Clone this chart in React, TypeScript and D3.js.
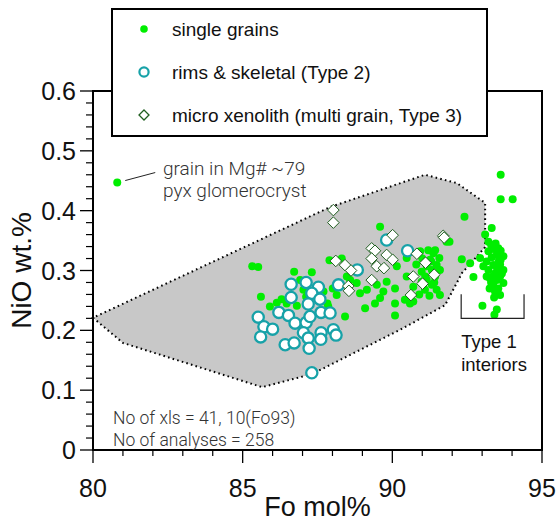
import React from 'react';
import * as d3 from 'd3';

// [Fo mol%, NiO wt.%]
const singleGrains: [number, number][] = [
  [80.81, 0.447],
  [85.32, 0.307], [85.52, 0.306], [86.72, 0.298], [87.31, 0.297], [87.9, 0.317], [88.31, 0.32],
  [85.61, 0.256], [85.91, 0.24], [86.14, 0.246], [86.3, 0.252], [86.81, 0.241],
  [87.03, 0.268], [87.12, 0.256], [87.7, 0.265], [88.01, 0.27], [88.14, 0.259], [87.83, 0.245],
  [88.42, 0.223], [88.48, 0.29], [86.92, 0.284], [86.47, 0.245], [87.86, 0.24],
  [93.62, 0.46], [93.62, 0.419], [94.02, 0.419], [92.41, 0.39], [93.32, 0.371], [93.1, 0.36],
  [93.21, 0.348], [91.91, 0.348],
  [93.21, 0.332], [93.37, 0.336], [93.54, 0.337], [93.62, 0.333], [93.49, 0.326], [93.71, 0.324],
  [93.32, 0.322], [93.62, 0.318], [93.15, 0.315], [93.37, 0.309], [93.54, 0.307], [93.71, 0.301],
  [93.21, 0.301], [93.43, 0.295], [93.6, 0.29], [93.26, 0.287], [93.49, 0.284], [93.71, 0.279],
  [93.37, 0.276], [93.54, 0.27], [93.43, 0.265], [93.6, 0.259], [93.15, 0.29], [93.04, 0.307],
  [92.93, 0.321], [92.32, 0.319], [92.6, 0.312], [92.71, 0.289], [93.01, 0.241], [93.49, 0.235],
  [93.41, 0.226],
  [93.3, 0.343], [93.45, 0.345], [93.55, 0.315], [93.3, 0.28], [93.66, 0.295], [93.4, 0.255],
  [93.25, 0.27], [93.5, 0.3], [93.35, 0.29], [93.6, 0.31],
  [89.59, 0.373],
  [91.2, 0.334], [91.37, 0.329], [91.57, 0.321], [91.26, 0.318], [91.48, 0.309], [91.15, 0.307],
  [90.98, 0.298], [91.32, 0.301], [91.59, 0.301], [91.43, 0.29], [91.15, 0.284], [91.32, 0.276],
  [91.09, 0.268], [91.48, 0.268], [91.24, 0.258], [90.7, 0.273], [90.48, 0.29], [90.42, 0.251],
  [90.7, 0.248], [90.15, 0.307], [90.09, 0.27], [89.81, 0.281], [89.7, 0.265], [89.48, 0.276],
  [89.15, 0.268], [88.92, 0.262], [88.81, 0.279], [89.59, 0.254], [89.42, 0.245], [89.09, 0.237],
  [90.09, 0.245], [90.09, 0.225], [90.48, 0.321], [91.81, 0.348], [90.93, 0.332], [88.59, 0.284],
  [91.59, 0.259], [90.59, 0.245], [90.98, 0.281], [91.43, 0.334],
  [91.0, 0.32], [91.3, 0.315], [90.8, 0.31], [91.4, 0.28], [90.9, 0.26], [91.1, 0.29],
];

const rimsSkeletal: [number, number][] = [
  [86.62, 0.277], [87.12, 0.28], [87.53, 0.272], [87.31, 0.262], [87.58, 0.252], [88.2, 0.276],
  [86.62, 0.255], [87.19, 0.244], [86.21, 0.23], [86.53, 0.225], [86.75, 0.212], [85.52, 0.222],
  [85.71, 0.206], [86.0, 0.202], [85.6, 0.189], [87.12, 0.213], [87.25, 0.223], [87.62, 0.23],
  [87.92, 0.229], [87.03, 0.196], [87.19, 0.187], [87.62, 0.196], [87.61, 0.185], [88.03, 0.201],
  [88.12, 0.192], [86.42, 0.176], [86.72, 0.179], [87.22, 0.17], [87.31, 0.129], [88.83, 0.301],
  [89.81, 0.351], [90.51, 0.333],
];

const microXenolith: [number, number][] = [
  [88.03, 0.401], [88.03, 0.38], [90.01, 0.359], [91.7, 0.358], [91.73, 0.355], [89.31, 0.337],
  [89.42, 0.333], [89.81, 0.326], [90.01, 0.318], [89.31, 0.32], [89.48, 0.307], [89.72, 0.304],
  [90.82, 0.328], [91.11, 0.313], [88.11, 0.316], [88.42, 0.309], [88.62, 0.3], [89.31, 0.284],
  [90.7, 0.29], [91.4, 0.293], [91.01, 0.278], [88.53, 0.274], [88.55, 0.266], [90.62, 0.259],
];

const hullOutline: [number, number][] = [
  [80.0, 0.221], [81.0, 0.179], [85.65, 0.105], [87.32, 0.127], [90.26, 0.201], [91.76, 0.242],
  [92.33, 0.296], [93.1, 0.339], [93.1, 0.413], [92.16, 0.446], [91.09, 0.46], [87.92, 0.406],
];

const xMajorTicks = [80, 85, 90, 95];
const xMinorTicks = [81, 82, 83, 84, 86, 87, 88, 89, 91, 92, 93, 94];
const yMajorTicks = [0, 0.1, 0.2, 0.3, 0.4, 0.5, 0.6];
const yTickLabels = ['0', '0.1', '0.2', '0.3', '0.4', '0.5', '0.6'];
const yMinorTicks = [
  0.02, 0.04, 0.06, 0.08, 0.12, 0.14, 0.16, 0.18, 0.22, 0.24, 0.26, 0.28,
  0.32, 0.34, 0.36, 0.38, 0.42, 0.44, 0.46, 0.48, 0.52, 0.54, 0.56, 0.58,
];

const legendLabels = ['single grains', 'rims & skeletal (Type 2)', 'micro xenolith (multi grain, Type 3)'];
const outlierNote = ['grain in Mg# ~79', 'pyx glomerocryst'];
const countNote = ['No of xls = 41, 10(Fo93)', 'No of analyses = 258'];
const bracketLabel = ['Type 1', 'interiors'];
const outlierPoint: [number, number] = [80.81, 0.447];
const bracketRange: [number, number, number] = [92.3, 94.4, 0.22]; // Fo from, Fo to, NiO bottom

const GREEN = '#00ee00';
const TEAL = '#17a2a8';
const DGREEN = '#1f5e1f';
const FONT = '"Liberation Sans", Arial, Helvetica, sans-serif';
const LIGHT = 'Roboto, "Liberation Sans", Arial, sans-serif';

export default function App() {
  const x = d3.scaleLinear().domain([80, 95]).range([93, 542]);
  const y = d3.scaleLinear().domain([0, 0.6]).range([450, 91]);
  const hullPath = d3
    .line<[number, number]>()
    .x((d) => x(d[0]))
    .y((d) => y(d[1]))
    .curve(d3.curveLinearClosed)(hullOutline) as string;
  const diamond = (s: number) => `M0,${-s}L${s},0L0,${s}L${-s},0Z`;

  const [x0, x1] = [x.range()[0], x.range()[1]];
  const [yb, yt] = [y.range()[0], y.range()[1]];

  const bx0 = x(bracketRange[0]);
  const bx1 = x(bracketRange[1]);
  const bTop = y(bracketRange[2]);
  const ox = x(outlierPoint[0]);
  const oy = y(outlierPoint[1]);

  return (
    <svg
      width={558}
      height={525}
      style={{ position: 'absolute', left: 0, top: 0, background: '#fff' }}
    >
      <path d={hullPath} fill="#c8c8c8" stroke="#000" strokeWidth={2} strokeDasharray="1.6 3.2" />

      {singleGrains.map((d, i) => (
        <circle key={'g' + i} cx={x(d[0])} cy={y(d[1])} r={4} fill={GREEN} />
      ))}
      {rimsSkeletal.map((d, i) => (
        <circle key={'r' + i} cx={x(d[0])} cy={y(d[1])} r={5.6} fill="#fff" stroke={TEAL} strokeWidth={2.3} />
      ))}
      {microXenolith.map((d, i) => (
        <path
          key={'x' + i}
          d={diamond(5.8)}
          transform={`translate(${x(d[0])},${y(d[1])})`}
          fill="#fff"
          stroke={DGREEN}
          strokeWidth={1}
        />
      ))}

      {/* frame */}
      <rect x={x0} y={yt} width={x1 - x0} height={yb - yt} fill="none" stroke="#000" strokeWidth={2} />

      {/* y ticks */}
      {yMajorTicks.map((t, i) => (
        <g key={'ym' + i}>
          <line x1={x0 - 13} x2={x0} y1={y(t)} y2={y(t)} stroke="#000" strokeWidth={1.3} />
          <text
            x={76}
            y={y(t)}
            dy="0.36em"
            textAnchor="end"
            fontFamily={FONT}
            fontSize={25}
            fill="#111"
          >
            {yTickLabels[i]}
          </text>
        </g>
      ))}
      {yMinorTicks.map((t, i) => (
        <line key={'yn' + i} x1={x0 - 7} x2={x0} y1={y(t)} y2={y(t)} stroke="#000" strokeWidth={1.2} />
      ))}

      {/* x ticks */}
      {xMajorTicks.map((t, i) => (
        <g key={'xm' + i}>
          <line x1={x(t)} x2={x(t)} y1={yb} y2={yb + 13} stroke="#000" strokeWidth={1.3} />
          <text x={x(t)} y={497} textAnchor="middle" fontFamily={FONT} fontSize={25} fill="#111">
            {t}
          </text>
        </g>
      ))}
      {xMinorTicks.map((t, i) => (
        <line key={'xn' + i} x1={x(t)} x2={x(t)} y1={yb} y2={yb + 6} stroke="#000" strokeWidth={1.2} />
      ))}

      {/* axis titles */}
      <text x={(x0 + x1) / 2} y={516} textAnchor="middle" fontFamily={FONT} fontSize={27} fill="#111">
        Fo mol%
      </text>
      <text
        transform={`translate(31,${(yb + yt) / 2}) rotate(-90)`}
        textAnchor="middle"
        fontFamily={FONT}
        fontSize={28}
        fill="#111"
      >
        NiO wt.%
      </text>

      {/* outlier annotation */}
      <line x1={ox + 8} y1={oy - 2} x2={ox + 38} y2={oy - 10} stroke="#222" strokeWidth={1} />
      <text x={163} y={175} fontFamily={LIGHT} fontWeight={300} fontSize={19} fill="#333">
        {outlierNote[0]}
      </text>
      <text x={163} y={197} fontFamily={LIGHT} fontWeight={300} fontSize={19} fill="#333">
        {outlierNote[1]}
      </text>

      {/* bracket */}
      <path
        d={`M${bx0},${bTop - 24}V${bTop}H${bx1}V${bTop - 24}`}
        fill="none"
        stroke="#222"
        strokeWidth={1.2}
      />
      <text x={bx0} y={348} fontFamily={FONT} fontSize={18.5} fill="#111">
        {bracketLabel[0]}
      </text>
      <text x={bx0} y={371} fontFamily={FONT} fontSize={18.5} fill="#111">
        {bracketLabel[1]}
      </text>

      {/* counts */}
      <text x={113} y={424} fontFamily={LIGHT} fontWeight={300} fontSize={17.5} fill="#333">
        {countNote[0]}
      </text>
      <text x={113} y={446} fontFamily={LIGHT} fontWeight={300} fontSize={17.5} fill="#333">
        {countNote[1]}
      </text>

      {/* legend */}
      <rect x={112} y={9} width={375} height={127} fill="#fff" stroke="#000" strokeWidth={2} />
      <circle cx={144} cy={29} r={3.8} fill={GREEN} />
      <circle cx={144} cy={72} r={4.6} fill="#fff" stroke={TEAL} strokeWidth={2.2} />
      <path d={diamond(5)} transform="translate(144,115)" fill="#fff" stroke={DGREEN} strokeWidth={1.3} />
      {legendLabels.map((l, i) => (
        <text key={'l' + i} x={172} y={29 + i * 43} dy="0.36em" fontFamily={FONT} fontSize={19} fill="#111">
          {l}
        </text>
      ))}
    </svg>
  );
}
